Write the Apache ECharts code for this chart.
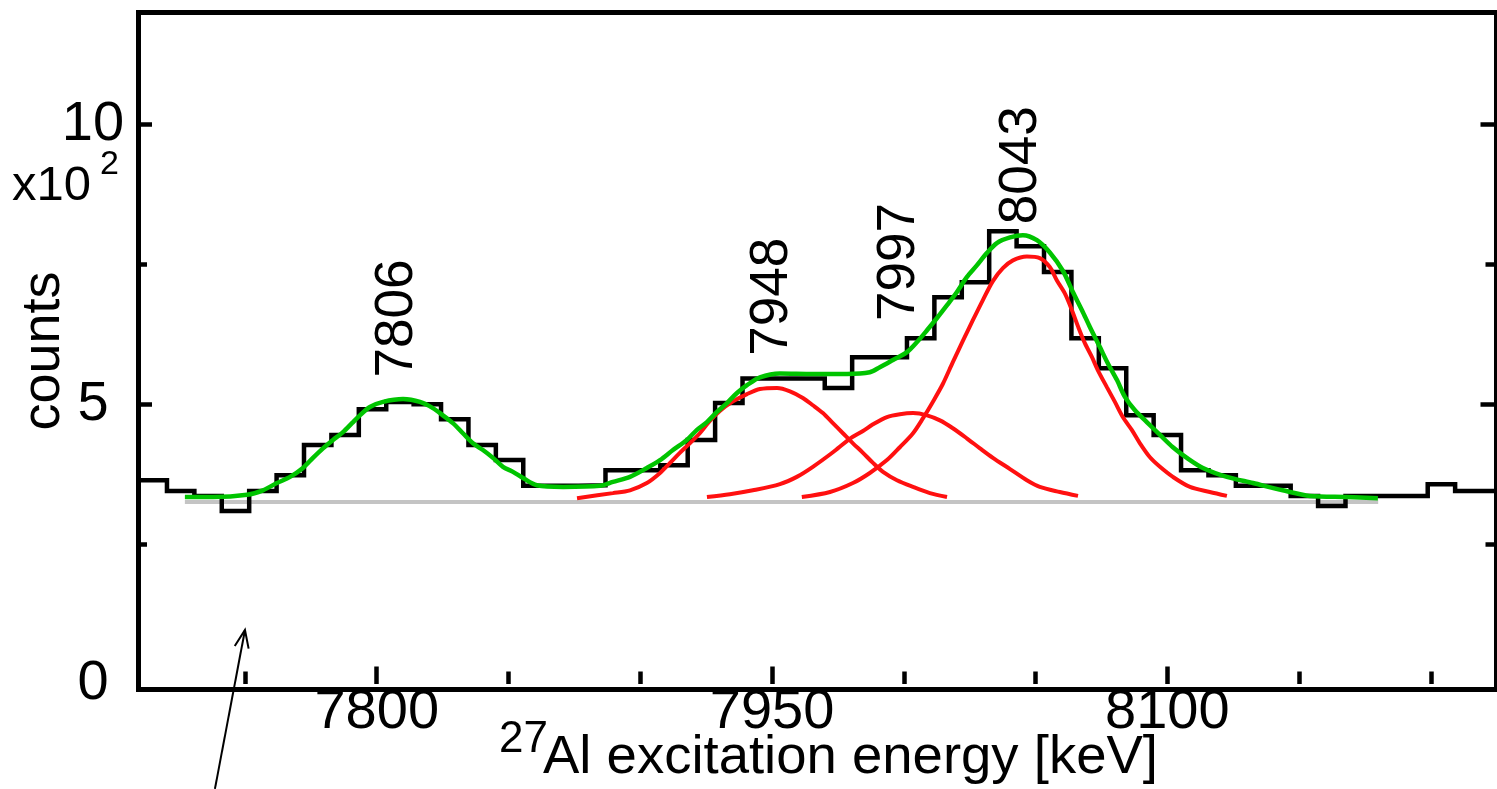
<!DOCTYPE html>
<html><head><meta charset="utf-8">
<script src="https://cdn.jsdelivr.net/npm/echarts@6/dist/echarts.min.js"></script>
<style>html,body{margin:0;padding:0;background:#fff}#c{width:1497px;height:789px}</style>
</head><body><div id="c"></div>
<script>
// ---- data (energies in keV, counts in units of 10^2) ----
const binEdges = [7710.0,7720.4,7730.8,7741.2,7751.6,7762.0,7772.4,7782.8,7793.2,7803.6,
  7814.0,7824.4,7834.8,7845.2,7855.6,7866.0,7876.4,7886.8,7897.2,7907.6,
  7918.0,7928.4,7938.8,7949.2,7959.6,7970.0,7980.4,7990.8,8001.2,8011.6,
  8022.0,8032.4,8042.8,8053.2,8063.6,8074.0,8084.4,8094.8,8105.2,8115.6,
  8126.0,8136.4,8146.8,8157.2,8167.6,8178.0,8188.4,8198.8,8209.2,8219.6,8230.0];
const binCounts = [3.64,3.45,3.36,3.09,3.45,3.73,4.27,4.45,4.91,5.04,
  5.00,4.73,4.27,4.00,3.54,3.54,3.55,3.82,3.82,3.91,
  4.36,5.02,5.46,5.46,5.46,5.29,5.84,5.84,6.18,6.91,
  7.18,8.09,7.82,7.36,6.18,5.64,4.80,4.45,3.82,3.73,
  3.54,3.54,3.36,3.18,3.36,3.36,3.36,3.57,3.45,3.45];

const fitTotalEnergy = [7727.2,7737.9,7750.8,7756.8,7762.1,7767.1,7772.0,7775.8,7779.6,7783.4,
  7787.2,7790.6,7793.6,7797.4,7802.4,7810.0,7816.4,7821.3,7825.1,7828.9,
  7832.7,7836.5,7840.3,7844.1,7847.9,7851.7,7855.5,7860.8,7870.7,7884.7,
  7889.6,7896.1,7902.5,7907.5,7912.4,7917.7,7921.5,7925.3,7929.1,7932.9,
  7936.7,7940.5,7945.4,7953.0,7965.5,7978.4,7987.1,7990.9,7995.9,8001.2,
  8005.0,8008.8,8012.6,8016.4,8020.1,8023.9,8027.7,8031.5,8035.3,8040.3,
  8045.2,8050.5,8055.4,8060.4,8064.2,8067.6,8070.6,8074.4,8077.4,8080.9,
  8083.9,8087.7,8092.2,8097.2,8102.1,8107.4,8113.5,8122.6,8132.5,8143.8,
  8154.1,8168.1,8179.9];
const fitTotalCounts = [3.34,3.34,3.38,3.46,3.59,3.70,3.86,4.04,4.21,4.36,
  4.50,4.66,4.80,4.95,5.04,5.09,5.04,4.93,4.80,4.66,
  4.48,4.30,4.18,4.04,3.88,3.79,3.68,3.55,3.52,3.54,
  3.61,3.70,3.86,4.00,4.18,4.36,4.54,4.68,4.86,5.02,
  5.20,5.34,5.48,5.55,5.54,5.54,5.57,5.66,5.79,5.93,
  6.11,6.32,6.54,6.77,7.00,7.27,7.48,7.70,7.88,7.98,
  8.02,7.93,7.71,7.38,7.00,6.68,6.38,6.02,5.73,5.43,
  5.13,4.89,4.68,4.45,4.23,4.04,3.86,3.70,3.59,3.46,
  3.36,3.34,3.32];

const peak7948Energy = [7876.0,7889.6,7896.1,7902.5,7907.5,7911.3,7915.0,7918.8,7922.6,7926.4,
  7930.2,7935.2,7940.5,7945.4,7951.9,7956.8,7961.7,7965.5,7969.3,7973.1,
  7976.9,7980.7,7984.5,7988.3,7992.1,7997.4,8003.5,8009.9,8016.4];
const peak7948Counts = [3.32,3.41,3.46,3.59,3.77,3.95,4.13,4.30,4.48,4.70,
  4.88,5.05,5.18,5.27,5.29,5.23,5.11,4.98,4.84,4.66,
  4.48,4.30,4.13,3.95,3.79,3.64,3.52,3.41,3.34];

const peak7997Energy = [7925.3,7934.0,7942.7,7953.0,7959.4,7965.5,7973.1,7979.5,7984.5,7988.3,
  7993.6,7998.5,8003.5,8008.8,8013.7,8018.6,8023.9,8028.9,8033.8,8040.3,
  8046.7,8051.6,8059.2,8066.1];
const peak7997Counts = [3.34,3.39,3.46,3.57,3.70,3.88,4.14,4.38,4.52,4.64,
  4.77,4.82,4.84,4.80,4.71,4.57,4.39,4.21,4.04,3.84,
  3.64,3.52,3.43,3.36];

const peak8043Energy = [7961.3,7972.0,7980.7,7987.1,7993.6,7998.5,8003.5,8007.3,8011.0,8014.8,
  8018.6,8022.4,8026.2,8030.0,8033.8,8037.6,8041.4,8046.7,8051.6,8055.4,
  8058.1,8061.1,8063.8,8066.1,8068.7,8071.4,8073.6,8077.1,8080.1,8083.1,
  8086.5,8089.6,8093.4,8097.2,8102.1,8108.6,8116.1,8122.6];
const peak8043Counts = [3.34,3.43,3.59,3.77,4.00,4.23,4.48,4.75,5.04,5.36,
  5.75,6.13,6.50,6.86,7.20,7.43,7.57,7.64,7.61,7.45,
  7.21,6.98,6.68,6.39,6.09,5.84,5.61,5.30,5.04,4.77,
  4.54,4.30,4.05,3.88,3.70,3.52,3.43,3.36];

const baselineEnergy = [7727.2, 8180.0];
const baselineCounts = [3.25, 3.25];

const peakNames = ['7806','7948','7997','8043'];
const peakLabelEnergy = [7807.7, 7950.3, 7998.5, 8044.8];
const peakLabelCounts = [6.53, 6.92, 7.54, 9.27];

const xMajorTicks = [7800, 7950, 8100];
const xMinorTicks = [7750, 7850, 7900, 8000, 8050, 8150, 8200];
const yLabelValues = [0, 5, 10];
const yMajorTicks = [5, 10];
const yMinorTicks = [2.5, 7.5];

const arrowTail = [7738.6, -1.875];
const arrowTip = [7750, 0.964];

// ---- chart ----
const FONT = '"Liberation Sans", Arial, sans-serif';
const pairs = (xs, ys) => xs.map((x, i) => [x, ys[i]]);
const histData = binEdges.map((e, i) => [e, binCounts[Math.min(i, binCounts.length - 1)]]);
const plain = v => String(v);

const X_MIN = 7709.6, X_MAX = 8224.9, Y_MIN = -0.1, Y_MAX = 12;

function xAxisDef(ticks, len, labels) {
  return {
    type: 'value', position: 'bottom', min: X_MIN, max: X_MAX,
    axisLine: { show: false }, splitLine: { show: false },
    axisTick: { show: true, inside: true, length: len, customValues: ticks,
      lineStyle: { color: '#000', width: 4.5 } },
    axisLabel: labels ? { show: true, customValues: labels, formatter: plain, fontFamily: FONT, fontSize: 56,
      color: '#000', margin: 23, verticalAlign: 'middle' } : { show: false }
  };
}
function yAxisDef(pos, ticks, len, labels) {
  return {
    type: 'value', position: pos, min: Y_MIN, max: Y_MAX,
    axisLine: { show: false }, splitLine: { show: false },
    axisTick: { show: true, inside: true, length: len, customValues: ticks,
      lineStyle: { color: '#000', width: 4.5 } },
    axisLabel: labels ? { show: true, customValues: labels, formatter: plain, fontFamily: FONT, fontSize: 56,
      color: '#000', margin: 45.5, align: 'center' } : { show: false }
  };
}

const chart = echarts.init(document.getElementById('c'), null, { renderer: 'canvas' });
const lineBase = { type: 'line', showSymbol: false, symbol: 'none', animation: false, silent: true, xAxisIndex: 0, yAxisIndex: 0 };

chart.setOption({
  animation: false,
  backgroundColor: '#fff',
  grid: { left: 138.5, right: 0.5, top: 12.5, bottom: 99.5, show: true,
    borderColor: '#000', borderWidth: 5, backgroundColor: 'transparent' },
  xAxis: [ xAxisDef(xMajorTicks, 17.5, xMajorTicks), xAxisDef(xMinorTicks, 12.5, null) ],
  yAxis: [ yAxisDef('left', yMajorTicks, 13.5, yLabelValues), yAxisDef('left', yMinorTicks, 8.5, null),
           yAxisDef('right', yMajorTicks, 16, null), yAxisDef('right', yMinorTicks, 11, null) ],
  series: [
    Object.assign({}, lineBase, { name: 'baseline', data: pairs(baselineEnergy, baselineCounts), z: 1,
      lineStyle: { color: '#c4c4c4', width: 4 } }),
    Object.assign({}, lineBase, { name: 'histogram', data: histData, step: 'end', z: 2,
      lineStyle: { color: '#000', width: 4.5, join: 'miter' } }),
    Object.assign({}, lineBase, { name: '7948', data: pairs(peak7948Energy, peak7948Counts), smooth: 0.3, z: 3,
      lineStyle: { color: '#ff1010', width: 4 } }),
    Object.assign({}, lineBase, { name: '7997', data: pairs(peak7997Energy, peak7997Counts), smooth: 0.3, z: 3,
      lineStyle: { color: '#ff1010', width: 4 } }),
    Object.assign({}, lineBase, { name: '8043', data: pairs(peak8043Energy, peak8043Counts), smooth: 0.3, z: 3,
      lineStyle: { color: '#ff1010', width: 4 } }),
    Object.assign({}, lineBase, { name: 'total', data: pairs(fitTotalEnergy, fitTotalCounts), smooth: 0.3, z: 4,
      lineStyle: { color: '#00c400', width: 4.5 } }),
    { type: 'scatter', name: 'peak labels', xAxisIndex: 0, yAxisIndex: 0, symbolSize: 0, silent: true, z: 5,
      itemStyle: { opacity: 1 },
      data: peakNames.map((n, i) => ({ name: n, value: [peakLabelEnergy[i], peakLabelCounts[i]] })),
      label: { show: true, position: 'inside', rotate: 90, formatter: '{b}', fontFamily: FONT,
        fontSize: 53, color: '#000', opacity: 1, align: 'center', verticalAlign: 'middle' } }
  ]
});

// ---- annotations ----
const tip = chart.convertToPixel({ seriesIndex: 0 }, arrowTip);
const tail = chart.convertToPixel({ seriesIndex: 0 }, arrowTail);
const ang = Math.atan2(tail[1] - tip[1], tail[0] - tip[0]);
const headLen = 19, headAng = 0.38;
const w1 = [tip[0] + headLen * Math.cos(ang + headAng), tip[1] + headLen * Math.sin(ang + headAng)];
const w2 = [tip[0] + headLen * Math.cos(ang - headAng), tip[1] + headLen * Math.sin(ang - headAng)];

chart.setOption({
  graphic: [
    { type: 'line', silent: true, shape: { x1: tail[0], y1: tail[1], x2: tip[0], y2: tip[1] },
      style: { stroke: '#000', lineWidth: 2 } },
    { type: 'polyline', silent: true, shape: { points: [w1, tip, w2] },
      style: { stroke: '#000', lineWidth: 2, fill: null } },
    { type: 'text', silent: true, x: 44, y: 351, rotation: Math.PI / 2,
      style: { text: 'counts', font: '54px ' + FONT, fill: '#000', align: 'center', verticalAlign: 'middle',
        textAlign: 'center', textVerticalAlign: 'middle' } },
    { type: 'text', silent: true, x: 12, y: 186,
      style: { text: 'x10', font: '49px ' + FONT, fill: '#000', align: 'left', verticalAlign: 'middle',
        textAlign: 'left', textVerticalAlign: 'middle' } },
    { type: 'text', silent: true, x: 100, y: 165,
      style: { text: '2', font: '34px ' + FONT, fill: '#000', align: 'left', verticalAlign: 'middle',
        textAlign: 'left', textVerticalAlign: 'middle' } },
    { type: 'text', silent: true, x: 499, y: 740,
      style: { text: '27', font: '44px ' + FONT, fill: '#000', align: 'left', verticalAlign: 'middle',
        textAlign: 'left', textVerticalAlign: 'middle' } },
    { type: 'text', silent: true, x: 543, y: 758,
      style: { text: 'Al excitation energy [keV]', font: '54.5px ' + FONT, fill: '#000', align: 'left',
        verticalAlign: 'middle', textAlign: 'left', textVerticalAlign: 'middle' } }
  ]
});
</script>
</body></html>
